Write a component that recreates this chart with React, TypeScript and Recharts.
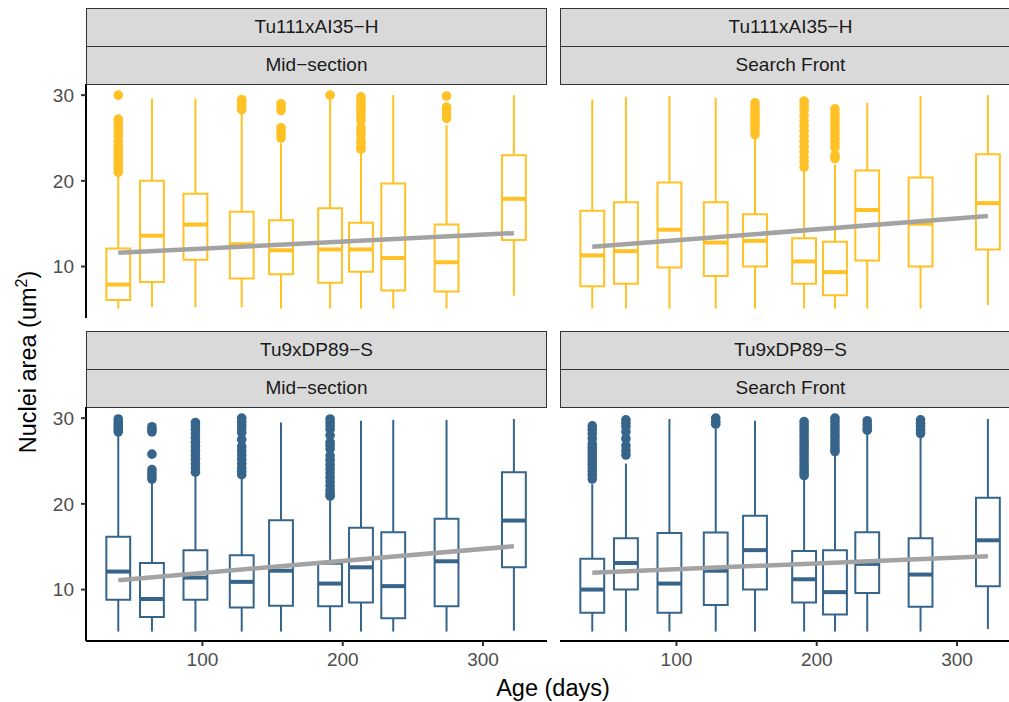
import React from 'react';
import { ComposedChart, XAxis, YAxis, Scatter, Line, ReferenceArea, ReferenceLine } from 'recharts';

const AGES = [40, 64, 95, 128, 156, 191, 213, 236, 274, 322];
const X_TICKS = [100, 200, 300];
const Y_TICKS = [10, 20, 30];

const YELLOW = '#FFC125';
const BLUE = '#36648B';
const TREND = '#A3A3A3';

// Tu111xAI35-H / Mid-section
const t111MidLow = [5.1, 5.25, 5.25, 5.25, 5.1, 5.1, 5.1, 5.1, 5.1, 6.6];
const t111MidQ1 = [6.1, 8.2, 10.8, 8.6, 9.1, 8.1, 9.4, 7.2, 7.1, 13.1];
const t111MidMed = [7.9, 13.6, 14.9, 12.6, 11.9, 12.0, 12.0, 11.0, 10.5, 17.9];
const t111MidQ3 = [12.1, 20.0, 18.5, 16.4, 15.4, 16.8, 15.1, 19.7, 14.9, 23.0];
const t111MidHigh = [20.5, 29.6, 29.6, 27.8, 24.4, 29.5, 23.3, 30.0, 26.5, 30.0];
const t111MidOut = [
  [30.0, 27.2, 26.8, 26.4, 26.0, 25.6, 25.2, 24.6, 24.2, 23.8, 23.4, 23.0, 22.6, 22.2, 21.8, 21.4, 21.0],
  [],
  [],
  [29.5, 29.2, 28.9, 28.6, 28.3],
  [29.0, 28.6, 28.2, 26.2, 25.8, 25.4, 25.0],
  [30.0],
  [29.8, 29.4, 29.0, 28.6, 28.2, 27.8, 27.4, 27.0, 26.2, 25.8, 25.4, 24.8, 24.4, 24.0, 23.7],
  [],
  [29.9, 28.6, 28.2, 27.8, 27.3],
  [],
];
const t111MidTrend = [11.6, 13.9];

// Tu111xAI35-H / Search Front
const t111SearchLow = [5.1, 5.1, 5.1, 5.1, 5.1, 5.1, 5.1, 5.1, 5.1, 5.5];
const t111SearchQ1 = [7.7, 8.0, 9.9, 8.9, 10.0, 8.0, 6.65, 10.7, 10.0, 12.0];
const t111SearchMed = [11.3, 11.8, 14.3, 12.8, 13.0, 10.6, 9.35, 16.6, 15.0, 17.4];
const t111SearchQ3 = [16.5, 17.5, 19.8, 17.5, 16.1, 13.3, 12.9, 21.2, 20.4, 23.1];
const t111SearchHigh = [29.5, 29.8, 29.9, 29.7, 25.0, 21.1, 21.9, 29.1, 29.9, 30.0];
const t111SearchOut = [
  [],
  [],
  [],
  [],
  [29.1, 28.7, 28.3, 27.9, 27.5, 27.1, 26.7, 26.3, 25.9, 25.4],
  [29.3, 28.8, 28.3, 27.6, 27.0, 26.4, 25.8, 25.2, 24.6, 24.0, 23.4, 22.8, 22.2, 21.6],
  [28.4, 27.9, 27.4, 26.9, 26.4, 25.9, 25.4, 24.9, 24.4, 23.9, 23.0, 22.6],
  [],
  [],
  [],
];
const t111SearchTrend = [12.3, 15.9];

// Tu9xDP89-S / Mid-section
const t9MidLow = [5.1, 5.1, 5.1, 5.1, 5.1, 5.1, 5.1, 5.1, 5.1, 5.2];
const t9MidQ1 = [8.8, 6.8, 8.8, 7.9, 8.1, 8.05, 8.5, 6.65, 8.05, 12.6];
const t9MidMed = [12.1, 8.9, 11.4, 10.9, 12.2, 10.7, 12.6, 10.4, 13.3, 18.05];
const t9MidQ3 = [16.15, 13.1, 14.6, 14.0, 18.1, 13.0, 17.2, 16.7, 18.25, 23.7];
const t9MidHigh = [28.0, 22.5, 23.2, 22.9, 29.5, 20.4, 29.7, 29.8, 29.8, 29.9];
const t9MidOut = [
  [29.9, 29.6, 29.3, 29.0, 28.7, 28.4],
  [29.0, 28.7, 28.4, 25.8, 24.0, 23.6, 23.2, 22.9],
  [29.5, 29.1, 28.7, 28.2, 27.7, 27.2, 26.7, 26.2, 25.7, 25.2, 24.7, 24.2, 23.7],
  [30.0, 29.6, 29.2, 28.8, 28.3, 27.5, 26.7, 26.2, 25.7, 25.2, 24.7, 24.2, 23.8, 23.4],
  [],
  [29.9, 29.5, 29.1, 28.7, 28.0, 27.2, 26.8, 26.4, 25.6, 25.1, 24.6, 24.1, 23.6, 23.1, 22.6, 22.1, 21.6, 21.2, 20.9],
  [],
  [],
  [],
  [],
];
const t9MidTrend = [11.1, 15.05];

// Tu9xDP89-S / Search Front
const t9SearchLow = [5.1, 5.1, 5.1, 5.1, 5.1, 5.1, 5.1, 5.1, 5.1, 5.4];
const t9SearchQ1 = [7.3, 10.0, 7.3, 8.2, 10.0, 8.5, 7.1, 9.6, 8.0, 10.4];
const t9SearchMed = [10.0, 13.1, 10.7, 12.2, 14.6, 11.2, 9.7, 13.0, 11.75, 15.75];
const t9SearchQ3 = [13.6, 16.0, 16.6, 16.65, 18.6, 14.5, 14.6, 16.7, 16.0, 20.7];
const t9SearchHigh = [22.3, 24.7, 29.9, 28.75, 29.7, 22.9, 25.6, 28.2, 27.8, 29.9];
const t9SearchOut = [
  [29.1, 28.7, 28.2, 27.6, 27.0, 26.6, 26.2, 25.8, 25.4, 25.0, 24.6, 24.2, 23.8, 23.4, 22.9],
  [29.8, 29.4, 29.0, 28.4, 27.6, 26.8, 26.2, 25.7],
  [],
  [30.0, 29.6, 29.3],
  [],
  [29.6, 29.2, 28.8, 28.4, 28.0, 27.6, 27.2, 26.8, 26.4, 26.0, 25.6, 25.2, 24.8, 24.4, 24.0, 23.6, 23.3],
  [30.0, 29.6, 29.2, 28.8, 28.4, 28.0, 27.6, 27.2, 26.8, 26.4, 26.1],
  [29.7, 29.3, 28.9, 28.6],
  [29.8, 29.4, 29.0, 28.6, 28.2],
  [],
];
const t9SearchTrend = [11.95, 13.9];

const FONT = '"Liberation Sans", Arial, Helvetica, sans-serif';
const PLOT_W = 461;
const PLOT_H = 234;
const Y_AXIS_W = 86;
const X_AXIS_H = 36;
const HALF_BOX = 8.5;

function Dot(props: any) {
  const { cx, cy, fill } = props;
  if (cx == null || cy == null) return null;
  return <circle cx={cx} cy={cy} r={4.8} fill={fill} />;
}

function Panel({ low, q1, med, q3, high, out, trend, color, showX, showY, left, top }: any) {
  const outliers = out.flatMap((vals: number[], i: number) => vals.map((v) => ({ x: AGES[i], y: v })));
  const trendData = [
    { x: AGES[0], y: trend[0] },
    { x: AGES[AGES.length - 1], y: trend[1] },
  ];
  const width = PLOT_W + (showY ? Y_AXIS_W : 0);
  const height = PLOT_H + (showX ? X_AXIS_H : 0);
  const tick = { fill: '#4D4D4D', fontSize: 19, fontFamily: FONT };

  return (
    <div style={{ position: 'absolute', left, top }}>
      <ComposedChart width={width} height={height} margin={{ top: 0, right: 0, bottom: 0, left: 0 }}>
        <XAxis
          dataKey="x"
          type="number"
          domain={[17, 345.6]}
          ticks={X_TICKS}
          allowDataOverflow
          hide={!showX}
          height={X_AXIS_H}
          tickSize={5}
          tickMargin={7}
          tick={tick}
          axisLine={{ stroke: '#000', strokeWidth: 2 }}
          tickLine={{ stroke: '#333', strokeWidth: 2 }}
        />
        <YAxis
          dataKey="y"
          type="number"
          domain={[4.0, 31.3]}
          ticks={Y_TICKS}
          allowDataOverflow
          hide={!showY}
          width={Y_AXIS_W}
          tickSize={5}
          tickMargin={7}
          tick={tick}
          axisLine={{ stroke: '#000', strokeWidth: 2 }}
          tickLine={{ stroke: '#333', strokeWidth: 2 }}
        />
        {AGES.map((a, i) => (
          <ReferenceArea
            key={`box${i}`}
            x1={a - HALF_BOX}
            x2={a + HALF_BOX}
            y1={q1[i]}
            y2={q3[i]}
            fill="#fff"
            fillOpacity={1}
            stroke={color}
            strokeWidth={2}
            ifOverflow="visible"
          />
        ))}
        {AGES.map((a, i) => (
          <ReferenceLine
            key={`wu${i}`}
            segment={[{ x: a, y: q3[i] }, { x: a, y: high[i] }]}
            stroke={color}
            strokeWidth={2}
            ifOverflow="visible"
          />
        ))}
        {AGES.map((a, i) => (
          <ReferenceLine
            key={`wl${i}`}
            segment={[{ x: a, y: low[i] }, { x: a, y: q1[i] }]}
            stroke={color}
            strokeWidth={2}
            ifOverflow="visible"
          />
        ))}
        {AGES.map((a, i) => (
          <ReferenceLine
            key={`md${i}`}
            segment={[{ x: a - HALF_BOX, y: med[i] }, { x: a + HALF_BOX, y: med[i] }]}
            stroke={color}
            strokeWidth={4}
            ifOverflow="visible"
          />
        ))}
        <Scatter data={outliers} dataKey="y" fill={color} shape={<Dot />} isAnimationActive={false} />
        <Line
          data={trendData}
          dataKey="y"
          type="linear"
          stroke={TREND}
          strokeWidth={4.5}
          dot={false}
          activeDot={false}
          isAnimationActive={false}
        />
      </ComposedChart>
    </div>
  );
}

function Strip({ left, top, label }: { left: number; top: number; label: string }) {
  return (
    <div
      style={{
        position: 'absolute',
        left,
        top,
        width: PLOT_W,
        height: 39,
        boxSizing: 'border-box',
        border: '1.6px solid #333',
        background: '#D9D9D9',
        color: '#1A1A1A',
        fontSize: 19,
        lineHeight: '36px',
        textAlign: 'center',
        fontFamily: FONT,
      }}
    >
      {label}
    </div>
  );
}

export default function App() {
  return (
    <div
      style={{
        position: 'absolute',
        left: 0,
        top: 0,
        width: 1009,
        height: 702,
        overflow: 'hidden',
        background: '#fff',
        fontFamily: FONT,
      }}
    >
      <Strip left={86} top={8} label="Tu111xAI35−H" />
      <Strip left={86} top={46} label="Mid−section" />
      <Strip left={560} top={8} label="Tu111xAI35−H" />
      <Strip left={560} top={46} label="Search Front" />
      <Strip left={86} top={331} label="Tu9xDP89−S" />
      <Strip left={86} top={369} label="Mid−section" />
      <Strip left={560} top={331} label="Tu9xDP89−S" />
      <Strip left={560} top={369} label="Search Front" />

      <Panel
        low={t111MidLow} q1={t111MidQ1} med={t111MidMed} q3={t111MidQ3} high={t111MidHigh}
        out={t111MidOut} trend={t111MidTrend} color={YELLOW} showY showX={false} left={0} top={84}
      />
      <Panel
        low={t111SearchLow} q1={t111SearchQ1} med={t111SearchMed} q3={t111SearchQ3} high={t111SearchHigh}
        out={t111SearchOut} trend={t111SearchTrend} color={YELLOW} showY={false} showX={false} left={560} top={84}
      />
      <Panel
        low={t9MidLow} q1={t9MidQ1} med={t9MidMed} q3={t9MidQ3} high={t9MidHigh}
        out={t9MidOut} trend={t9MidTrend} color={BLUE} showY showX left={0} top={407}
      />
      <Panel
        low={t9SearchLow} q1={t9SearchQ1} med={t9SearchMed} q3={t9SearchQ3} high={t9SearchHigh}
        out={t9SearchOut} trend={t9SearchTrend} color={BLUE} showY={false} showX left={560} top={407}
      />

      <div
        style={{
          position: 'absolute',
          left: 28,
          top: 362,
          transform: 'translate(-50%, -50%) rotate(-90deg)',
          whiteSpace: 'nowrap',
          fontSize: 23.5,
          color: '#000',
        }}
      >
        Nuclei area (um<sup style={{ fontSize: 16, verticalAlign: 'super', lineHeight: 0 }}>2</sup>)
      </div>
      <div
        style={{
          position: 'absolute',
          left: 553,
          top: 688,
          transform: 'translate(-50%, -50%)',
          whiteSpace: 'nowrap',
          fontSize: 23.5,
          color: '#000',
        }}
      >
        Age (days)
      </div>
    </div>
  );
}
